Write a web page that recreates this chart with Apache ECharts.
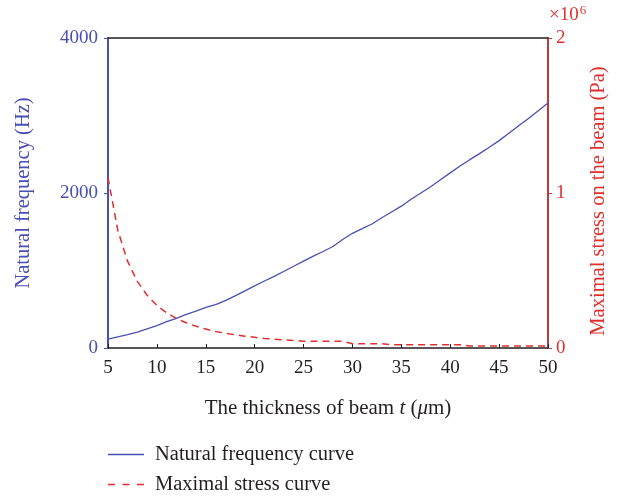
<!DOCTYPE html>
<html><head><meta charset="utf-8">
<script src="https://cdn.jsdelivr.net/npm/echarts@6/dist/echarts.min.js"></script>
<style>html,body{margin:0;padding:0;background:#fff}#c{width:626px;height:498px}</style>
</head><body><div id="c"></div>
<script>
const thickness = [5,6,7,8,9,10,11,12,13,14,15,16,17,18,19,20,21,22,23,24,25,26,27,28,29,30,31,32,33,34,35,36,37,38,39,40,41,42,43,44,45,46,47,48,49,50];
const frequency = [115,145,172,205,248,290,340,383,435,475,525,560,612,672,737,802,865,925,990,1055,1120,1185,1245,1310,1400,1480,1540,1600,1680,1755,1830,1920,2000,2080,2170,2260,2348,2430,2508,2590,2676,2770,2867,2960,3060,3160];
const stress = [1.10,0.76,0.56,0.43,0.34,0.275,0.227,0.19,0.163,0.14,0.122,0.107,0.095,0.085,0.076,0.069,0.062,0.057,0.052,0.048,0.044,0.043,0.043,0.043,0.043,0.028,0.028,0.028,0.028,0.021,0.021,0.021,0.021,0.021,0.021,0.021,0.021,0.013,0.013,0.013,0.013,0.013,0.013,0.013,0.013,0.013];
const xTicks = [5,10,15,20,25,30,35,40,45,50];
const seriesNames = ['Natural frequency curve','Maximal stress curve'];

const serif = '"Liberation Serif","DejaVu Serif",serif';
const blue = '#4a4fb3', red = '#e0302e', redAxis = '#c0393d', dark = '#231f20';
const chart = echarts.init(document.getElementById('c'), null, {renderer:'canvas'});
const legendText = {fontFamily:serif,fontSize:20.5,color:dark,padding:[0,0,0,6]};
chart.setOption({
  animation:false,
  grid:{left:108,right:78,top:38,bottom:150},
  legend:[{
    left:108, top:444, itemWidth:36, itemHeight:1.4, padding:[0,0,0,0],
    textStyle:legendText,
    data:[{name:seriesNames[0],icon:'path://M0,0h36v1.4h-36z'}]
  },{
    left:108, top:474, itemWidth:36, itemHeight:1.6, padding:[0,0,0,0],
    textStyle:legendText,
    data:[{name:seriesNames[1],icon:'path://M0,0h7v1.6h-7z M14.5,0h7v1.6h-7z M29,0h7v1.6h-7z'}]
  }],
  xAxis:[{
    type:'value', min:5, max:50, interval:5,
    axisLine:{lineStyle:{color:dark,width:1.5}},
    axisTick:{inside:true,length:4,lineStyle:{color:dark}},
    axisLabel:{fontFamily:serif,fontSize:19,color:dark,margin:11},
    splitLine:{show:false},
    name:'{a|The thickness of beam }{i|t}{a| (}{i|μ}{a|m)}',
    nameLocation:'middle', nameGap:50,
    nameTextStyle:{rich:{a:{fontFamily:serif,fontSize:21,color:dark},i:{fontFamily:serif,fontSize:21,color:dark,fontStyle:'italic'}}}
  },{
    type:'value', min:5, max:50, position:'top',
    axisLine:{onZero:false,lineStyle:{color:dark,width:1.5}},
    axisTick:{show:false}, axisLabel:{show:false}, splitLine:{show:false}
  }],
  yAxis:[{
    type:'value', min:0, max:4000, interval:2000,
    axisLine:{show:true,lineStyle:{color:blue,width:2}},
    axisTick:{show:true,length:4,lineStyle:{color:blue}},
    axisLabel:{fontFamily:serif,fontSize:19,color:blue,margin:10,formatter:v=>String(v)},
    splitLine:{show:false},
    name:'Natural frequency (Hz)', nameLocation:'middle', nameGap:74, nameRotate:90,
    nameTextStyle:{fontFamily:serif,fontSize:20.5,color:blue}
  },{
    type:'value', min:0, max:2, interval:1, position:'right',
    axisLine:{show:true,lineStyle:{color:redAxis,width:2}},
    axisTick:{show:true,length:4,lineStyle:{color:redAxis}},
    axisLabel:{fontFamily:serif,fontSize:19,color:red,margin:8},
    splitLine:{show:false},
    name:'Maximal stress on the beam (Pa)', nameLocation:'middle', nameGap:40, nameRotate:90,
    nameTextStyle:{fontFamily:serif,fontSize:20.5,color:red,padding:[0,16,0,0]}
  }],
  graphic:[{
    type:'text', left:549, top:4,
    style:{text:'{a|×10}{s|6}',rich:{a:{fontFamily:serif,fontSize:19,fill:red},s:{fontFamily:serif,fontSize:13,fill:red,verticalAlign:'top',padding:[0,0,10,1]}}}
  }],
  series:[{
    name:seriesNames[0], type:'line', yAxisIndex:0, showSymbol:false, symbol:'none',
    data:thickness.map((t,i)=>[t,frequency[i]]),
    lineStyle:{color:blue,width:1.3}, itemStyle:{color:blue}
  },{
    name:seriesNames[1], type:'line', yAxisIndex:1, showSymbol:false, symbol:'none', smooth:false,
    data:thickness.map((t,i)=>[t,stress[i]]),
    lineStyle:{color:red,width:1.5,type:[7,5]}, itemStyle:{color:red}
  }]
});
</script></body></html>
